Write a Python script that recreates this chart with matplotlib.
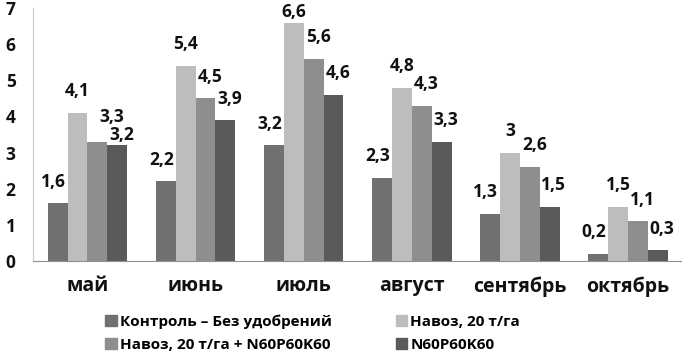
import numpy as np
import matplotlib.pyplot as plt
from matplotlib.patches import Patch

plt.rcParams['font.family'] = ['Open Sans', 'DejaVu Sans']

months = ['май', 'июнь', 'июль', 'август', 'сентябрь', 'октябрь']
series = ['Контроль – Без удобрений', 'Навоз, 20 т/га',
          'Навоз, 20 т/га + N60P60K60', 'N60P60K60']
control = [1.6, 2.2, 3.2, 2.3, 1.3, 0.2]
manure = [4.1, 5.4, 6.6, 4.8, 3.0, 1.5]
manure_npk = [3.3, 4.5, 5.6, 4.3, 2.6, 1.1]
npk = [3.2, 3.9, 4.6, 3.3, 1.5, 0.3]
colors = ['#707070', '#bdbdbd', '#8e8e8e', '#5a5a5a']

# label shifts (points) like excel does to avoid overlaps
series_dx = [-3, 0, 3.5, 3]
nudge = {(0, 2): (7, 2), (0, 3): (0, -8), (2, 1): (0, -8)}

fig = plt.figure(figsize=(6.82, 3.53), dpi=100)
ax = fig.add_axes([0.049, 0.261, 0.951, 0.716])

x = np.arange(len(months))
w = 0.184
data = [control, manure, manure_npk, npk]
for i, (vals, c) in enumerate(zip(data, colors)):
    pos = x + (i - 1.5) * w
    ax.bar(pos, vals, w, color=c, linewidth=0)
    for j, (px, v) in enumerate(zip(pos, vals)):
        lab = ('%g' % v).replace('.', ',')
        ddx, ddy = nudge.get((j, i), (0, 0))
        ax.annotate(lab, (px, v), xytext=(series_dx[i] + ddx, 15.5 + ddy),
                    textcoords='offset points', ha='center', va='center',
                    fontsize=12.5, fontweight='bold', color='#111111',
                    annotation_clip=False)

ax.set_xlim(-0.5, 5.5)
ax.set_ylim(0, 7)
ax.set_yticks(range(8))
ax.set_xticks(x)
ax.set_xticklabels(months)
ax.tick_params(axis='y', length=0, labelsize=12.5, colors='#111111', pad=20)
ax.tick_params(axis='x', length=0, labelsize=14, colors='#111111', pad=11)
for lbl in ax.get_xticklabels() + ax.get_yticklabels():
    lbl.set_fontweight('bold')
for lbl in ax.get_yticklabels():
    lbl.set_horizontalalignment('left')
ax.spines['top'].set_visible(False)
ax.spines['right'].set_visible(False)
ax.spines['left'].set_color('#c8c8c8')
ax.spines['bottom'].set_color('#909090')

# excel fills the legend row by row
order = [0, 2, 1, 3]
handles = [Patch(color=colors[k]) for k in order]
labels = [series[k] for k in order]
fig.legend(handles, labels, ncol=2, loc='lower left', bbox_to_anchor=(0.134, -0.035),
           frameon=False, prop={'size': 11, 'weight': 'bold'},
           handlelength=0.75, handleheight=0.75,
           handletextpad=0.2, columnspacing=4.2, labelspacing=0.55)

fig.savefig('out.png', dpi=100)
